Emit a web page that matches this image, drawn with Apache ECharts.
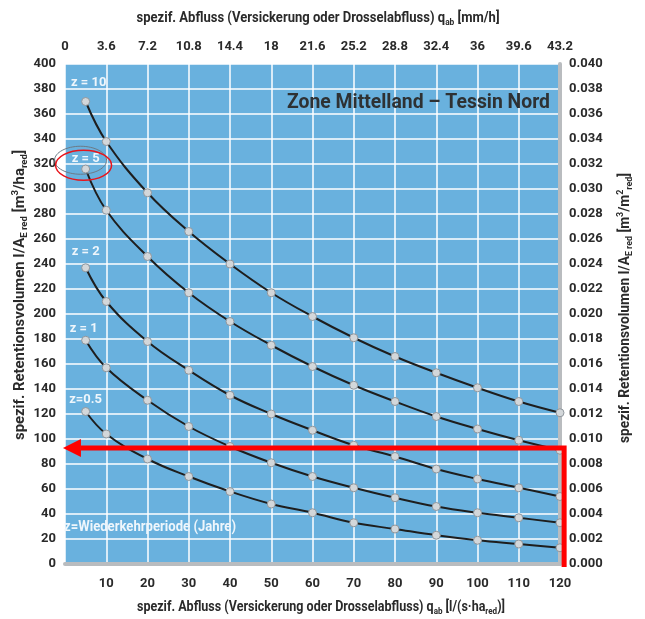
<!DOCTYPE html>
<html><head><meta charset="utf-8">
<script src="https://cdn.jsdelivr.net/npm/echarts@6/dist/echarts.min.js"></script>
<style>html,body{margin:0;padding:0;background:#fff}#c{width:645px;height:619px}</style>
</head><body><div id="c"></div>
<script>
const xValues = [5, 10, 20, 30, 40, 50, 60, 70, 80, 90, 100, 110, 120];
const z10 = [370, 338, 297, 266, 240, 217, 198, 181, 166, 153, 141, 130, 121];
const z5 = [316, 283, 246, 217, 194, 175, 158, 143, 130, 118, 108, 99, 91];
const z2 = [237, 210, 178, 155, 135, 120, 107, 95, 86, 76, 68, 61, 54];
const z1 = [179, 157, 131, 110, 94, 81, 70, 61, 53, 46, 41, 37, 33];
const z05 = [122, 104, 84, 70, 58, 48, 41, 33, 28, 23, 19, 16, 13];
const seriesNames = ['z = 10', 'z = 5', 'z = 2', 'z = 1', 'z=0.5'];
const seriesData = [z10, z5, z2, z1, z05];
const labelOffsets = [[3, -3], [0, 6], [0, 0], [-2, 4], [0, 4]];
const topTickLabels = ['0','3.6','7.2','10.8','14.4','18','21.6','25.2','28.8','32.4','36','39.6','43.2'];
const arrowPath = [[121.0, -2.4], [121.0, 92.8], [3.8, 92.8]];
const arrowTip = [-0.5, 92.8];

const FONT = 'Roboto, "Open Sans", sans-serif';
const INK = '#2a2a2a';
const chart = echarts.init(document.getElementById('c'), null, {renderer: 'canvas'});

const mctx = document.createElement('canvas').getContext('2d');
function measure(parts, sizes) {
  let w = 0;
  parts.forEach(([txt, k]) => { mctx.font = 'bold ' + sizes[k] + 'px Roboto'; w += mctx.measureText(txt).width; });
  return w;
}
function richText(parts) { return parts.map(([t, k]) => '{' + k + '|' + t + '}').join(''); }
function nameGraphic(parts, target, cx, cy, rot) {
  const sizes = {t: 14, s: 9, p: 9};
  const w = measure(parts, sizes);
  return {
    type: 'text', x: cx, y: cy, rotation: rot, scaleX: target / w, z: 10, silent: true,
    style: {
      text: richText(parts), align: 'center', verticalAlign: 'middle',
      rich: {
        t: {fontSize: 14, fontWeight: 'bold', fill: INK, fontFamily: 'Roboto', lineHeight: 18},
        s: {fontSize: 9, fontWeight: 'bold', fill: INK, fontFamily: 'Roboto', verticalAlign: 'bottom', lineHeight: 18, padding: [7, 0, 0, 0]},
        p: {fontSize: 9, fontWeight: 'bold', fill: INK, fontFamily: 'Roboto', verticalAlign: 'top', lineHeight: 18, padding: [0, 0, 7, 0]}
      }
    }
  };
}
function plainGraphic(text, size, target, x, cy, color, align) {
  mctx.font = 'bold ' + size + 'px Roboto';
  const w = mctx.measureText(text).width;
  return {
    type: 'text', x: x, y: cy, scaleX: target / w, z: 10, silent: true,
    style: {text: text, fill: color, fontSize: size, fontWeight: 'bold', fontFamily: 'Roboto', align: align, verticalAlign: 'middle'}
  };
}

const curveSeries = seriesData.map((vals, i) => ({
  name: seriesNames[i],
  type: 'line',
  smooth: 0.4,
  data: vals.map((v, k) => [xValues[k], v]),
  symbol: 'circle',
  symbolSize: 8,
  itemStyle: {color: '#d3d7da', borderColor: '#8f969c', borderWidth: 1},
  lineStyle: {color: '#1e1e1e', width: 2},
  label: {
    show: true, position: 'top', offset: labelOffsets[i],
    formatter: p => p.dataIndex === 0 ? seriesNames[i] : '',
    color: '#eef6fc', fontSize: 13, fontWeight: 'bold', fontFamily: FONT
  },
  z: 3
}));

const axisLabelStyle = {color: INK, fontSize: 13, fontFamily: FONT, fontWeight: 'bold'};

const graphics = [
  nameGraphic([['spezif. Abfluss (Versickerung oder Drosselabfluss) q', 't'], ['ab', 's'], [' [mm/h]', 't']], 363, 318, 18, 0),
  nameGraphic([['spezif. Abfluss (Versickerung oder Drosselabfluss) q', 't'], ['ab', 's'], [' [l/(s·ha', 't'], ['red', 's'], [')]', 't']], 368, 321, 607, 0),
  nameGraphic([['spezif. Retentionsvolumen I/A', 't'], ['E red', 's'], [' [m', 't'], ['3', 'p'], ['/ha', 't'], ['red', 's'], [']', 't']], 290, 20, 295, Math.PI / 2),
  nameGraphic([['spezif. Retentionsvolumen I/A', 't'], ['E red', 's'], [' [m', 't'], ['3', 'p'], ['/m', 't'], ['2', 'p'], ['red', 's'], [']', 't']], 270, 625, 308, Math.PI / 2),
  plainGraphic('Zone Mittelland – Tessin Nord', 21, 263, 287, 103, '#2e3133', 'left'),
  plainGraphic('z=Wiederkehrperiode (Jahre)', 15, 172, 64, 527, '#eef6fc', 'left')
];

chart.setOption({
  animation: false,
  grid: {left: 65, right: 85, top: 64, bottom: 55, show: true, backgroundColor: '#69b1de', borderWidth: 0},
  xAxis: [{
    type: 'value', min: 0, max: 120, interval: 10, position: 'bottom',
    axisLine: {show: true, onZero: false, lineStyle: {color: '#b9bcbf', width: 4}},
    axisTick: {show: false},
    splitLine: {show: true, lineStyle: {color: '#ffffff', width: 1.5}},
    axisLabel: Object.assign({margin: 13, formatter: v => v === 0 ? '' : String(v)}, axisLabelStyle)
  }, {
    type: 'value', min: 0, max: 120, interval: 10, position: 'top',
    axisLine: {show: false}, axisTick: {show: false}, splitLine: {show: false},
    axisLabel: Object.assign({margin: 11, formatter: v => topTickLabels[Math.round(v / 10)]}, axisLabelStyle)
  }],
  yAxis: [{
    type: 'value', min: 0, max: 400, interval: 20, position: 'left',
    axisLine: {show: false}, axisTick: {show: false},
    splitLine: {show: true, lineStyle: {color: '#ffffff', width: 1.5}},
    axisLabel: Object.assign({margin: 9}, axisLabelStyle)
  }, {
    type: 'value', min: 0, max: 0.04, interval: 0.002, position: 'right',
    axisLine: {show: true, onZero: false, lineStyle: {color: '#b9bcbf', width: 4}}, axisTick: {show: false}, splitLine: {show: false},
    axisLabel: Object.assign({margin: 9, formatter: v => v.toFixed(3)}, axisLabelStyle)
  }],
  graphic: graphics,
  series: curveSeries
});

const toPx = p => chart.convertToPixel({xAxisIndex: 0, yAxisIndex: 0}, p);
const c = toPx([4.5, 319]);
const pathPx = arrowPath.map(toPx);
const tip = toPx(arrowTip);
chart.setOption({graphic: graphics.map(() => ({})).concat([{
  type: 'ellipse', shape: {cx: c[0], cy: c[1], rx: 28, ry: 15}, z: 10,
  style: {fill: 'none', stroke: '#e8141b', lineWidth: 1.5}
}, {
  type: 'ellipse', shape: {cx: c[0] - 3, cy: c[1] - 5, rx: 26, ry: 14}, z: 9,
  style: {fill: 'none', stroke: '#6c7a86', lineWidth: 1}
}, {
  type: 'polyline', shape: {points: pathPx}, z: 20, silent: true,
  style: {stroke: '#ff0000', lineWidth: 5, fill: null, lineJoin: 'miter'}
}, {
  type: 'polygon', shape: {points: [tip, [tip[0] + 18, tip[1] - 9], [tip[0] + 18, tip[1] + 9]]}, z: 20, silent: true,
  style: {fill: '#ff0000'}
}])});
</script></body></html>
